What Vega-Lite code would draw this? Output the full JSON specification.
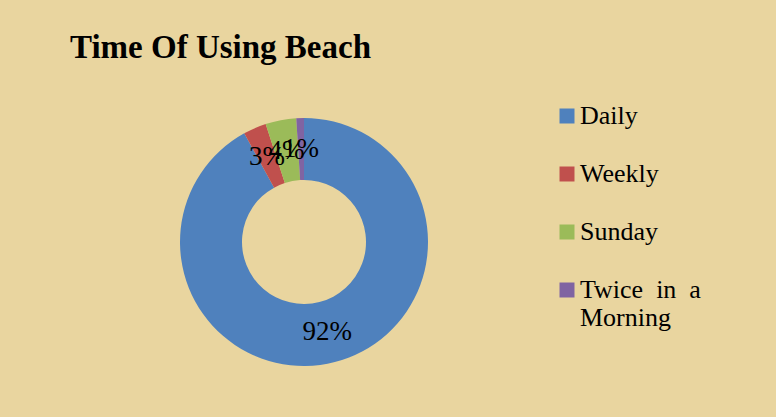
{
  "$schema": "https://vega.github.io/schema/vega-lite/v6.json",
  "width": 248,
  "height": 248,
  "autosize": {"type": "none"},
  "padding": {"left": 180, "top": 118, "right": 348, "bottom": 51},
  "background": "#E9D59F",
  "title": {
    "text": "Time Of Using Beach",
    "anchor": "start",
    "frame": "group",
    "dx": -110,
    "offset": 38,
    "font": "Liberation Serif",
    "fontSize": 33,
    "fontWeight": "bold",
    "color": "#000000"
  },
  "data": {
    "values": [
      {"category": "Daily", "value": 92, "label": "92%", "ord": 1},
      {"category": "Weekly", "value": 3, "label": "3%", "ord": 2},
      {"category": "Sunday", "value": 4, "label": "4%", "ord": 3},
      {"category": "Twice in a Morning", "value": 1, "label": "1%", "ord": 4}
    ]
  },
  "encoding": {
    "theta": {"field": "value", "type": "quantitative", "stack": true},
    "order": {"field": "ord", "type": "quantitative"}
  },
  "layer": [
    {
      "mark": {"type": "arc", "innerRadius": 62, "outerRadius": 124},
      "encoding": {
        "color": {
          "field": "category",
          "type": "nominal",
          "sort": ["Daily", "Weekly", "Sunday", "Twice in a Morning"],
          "scale": {
            "domain": ["Daily", "Weekly", "Sunday", "Twice in a Morning"],
            "range": ["#4F81BD", "#C0504D", "#9BBB59", "#8064A2"]
          },
          "legend": {
            "title": null,
            "orient": "none",
            "legendX": 374,
            "legendY": -15,
            "symbolType": "square",
            "symbolSize": 225,
            "symbolStrokeWidth": 0,
            "labelFont": "Liberation Serif",
            "labelFontSize": 26,
            "labelColor": "#000000",
            "labelLimit": 300,
            "rowPadding": 32,
            "labelOffset": 0,
            "labelExpr": "datum.label == 'Twice in a Morning' ? ['Twice\u00a0\u00a0in\u00a0\u00a0a', 'Morning'] : datum.label"
          }
        }
      }
    },
    {
      "mark": {"type": "text", "radius": 93, "font": "Liberation Serif", "fontSize": 27, "color": "#000000"},
      "encoding": {
        "text": {"field": "label"}
      }
    }
  ]
}
